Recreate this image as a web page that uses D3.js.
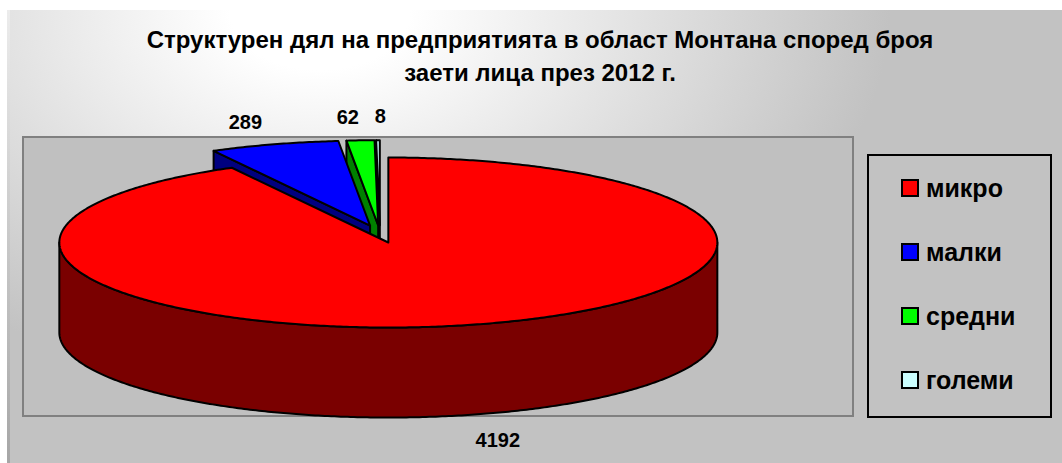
<!DOCTYPE html>
<html>
<head>
<meta charset="utf-8">
<script src="https://cdn.jsdelivr.net/npm/d3@7"></script>
<style>
  body { margin: 0; background: #fff; }
  svg { display: block; font-family: "Liberation Sans", Arial, sans-serif; }
</style>
</head>
<body>
<svg id="chart" width="1062" height="463"></svg>
<script>
// data
const categories = ['микро', 'малки', 'средни', 'големи'];
const values = [4192, 289, 62, 8];
const titleLines = ['Структурен дял на предприятията в област Монтана според броя', 'заети лица през 2012 г.'];

// look
const topColors = ['#ff0000', '#0000ff', '#00ff00', '#ccffff'];
const sideColors = ['#7a0000', '#000080', '#008000', '#669999'];
const labelDx = [3, 2, -7, 3];   // small nudges like excel does
const labelDy = [-1, 4, 4, 3];

const width = 1062, height = 463;
const cx = 380, cy = 234;     // pie centre before explosion
const rx = 329, ry = 85;      // top ellipse radii
const depth = 90;             // pie thickness
const explode = 34;           // slice explosion
const labelFactor = 1.32;

const svg = d3.select('#chart');
const defs = svg.append('defs');

const grad = defs.append('radialGradient')
  .attr('id', 'bg')
  .attr('gradientUnits', 'userSpaceOnUse')
  .attr('cx', 0).attr('cy', 0).attr('r', 1)
  .attr('gradientTransform', 'translate(320,10) scale(600,400)');
grad.append('stop').attr('offset', 0).attr('stop-color', '#ffffff');
grad.append('stop').attr('offset', 0.15).attr('stop-color', '#ffffff');
grad.append('stop').attr('offset', 0.95).attr('stop-color', '#c2c2c2');
grad.append('stop').attr('offset', 1).attr('stop-color', '#c2c2c2');

const edge = defs.append('linearGradient')
  .attr('id', 'edge').attr('x1', 0).attr('y1', 0).attr('x2', 0).attr('y2', 1);
edge.append('stop').attr('offset', 0).attr('stop-color', '#ececec');
edge.append('stop').attr('offset', 1).attr('stop-color', '#a6a6a6');

// chart background
svg.append('rect')
  .attr('x', 7).attr('y', 10).attr('width', width - 7).attr('height', height - 10)
  .attr('fill', 'url(#bg)');
svg.append('rect')
  .attr('x', 7).attr('y', 10).attr('width', 3).attr('height', height - 10)
  .attr('fill', 'url(#edge)');

// title
svg.append('text')
  .attr('x', 540).attr('y', 48)
  .attr('text-anchor', 'middle')
  .attr('font-size', 24).attr('font-weight', 'bold')
  .selectAll('tspan')
  .data(titleLines)
  .join('tspan')
  .attr('x', 540)
  .attr('dy', (d, i) => i ? 32.5 : 0)
  .text(d => d);

// plot area
svg.append('rect')
  .attr('x', 23).attr('y', 137).attr('width', 830).attr('height', 279)
  .attr('fill', '#c0c0c0').attr('stroke', '#808080').attr('stroke-width', 2);

// pie
const pie = d3.pie().sort(null).startAngle(0).endAngle(2 * Math.PI);
const arcs = pie(values).map((d, i) => {
  const mid = (d.startAngle + d.endAngle) / 2;
  return {
    ...d, i, mid,
    ox: cx + explode * Math.sin(mid),
    oy: cy - explode * Math.cos(mid) * ry / rx
  };
});

const line = d3.line();
const rim = (a, x0, y0, dz = 0) => [x0 + rx * Math.sin(a), y0 - ry * Math.cos(a) + dz];
const sample = (a0, a1, x0, y0, dz) => {
  const n = Math.max(2, Math.ceil((a1 - a0) / 0.01));
  return d3.range(n + 1).map(k => rim(a0 + (a1 - a0) * k / n, x0, y0, dz));
};

const pieG = svg.append('g')
  .attr('stroke', '#000').attr('stroke-width', 2).attr('stroke-linejoin', 'round');

// draw back slices first
const order = arcs.slice().sort((a, b) => Math.cos(b.mid) - Math.cos(a.mid));

order.forEach(s => {
  const g = pieG.append('g');
  const a0 = s.startAngle, a1 = s.endAngle;
  // radial faces facing the viewer
  const face = a => line([[s.ox, s.oy], rim(a, s.ox, s.oy), rim(a, s.ox, s.oy, depth), [s.ox, s.oy + depth]]) + 'Z';
  if (Math.sin(a0) < -1e-6) g.append('path').attr('d', face(a0)).attr('fill', sideColors[s.i]);
  if (Math.sin(a1) > 1e-6) g.append('path').attr('d', face(a1)).attr('fill', sideColors[s.i]);
  // outer wall (front half)
  const w0 = Math.max(a0, Math.PI / 2), w1 = Math.min(a1, 3 * Math.PI / 2);
  if (w1 > w0) {
    const pts = sample(w0, w1, s.ox, s.oy, 0).concat(sample(w0, w1, s.ox, s.oy, depth).reverse());
    g.append('path').attr('d', line(pts) + 'Z').attr('fill', sideColors[s.i]);
  }
  // top face
  const topPts = [[s.ox, s.oy]].concat(sample(a0, a1, s.ox, s.oy, 0));
  g.append('path').attr('d', line(topPts) + 'Z').attr('fill', topColors[s.i]);
});

// data labels
svg.append('g')
  .attr('font-size', 20).attr('font-weight', 'bold').attr('text-anchor', 'middle')
  .selectAll('text')
  .data(arcs)
  .join('text')
  .attr('x', d => d.ox + rx * labelFactor * Math.sin(d.mid) + labelDx[d.i])
  .attr('y', d => d.oy - ry * labelFactor * Math.cos(d.mid) + (Math.cos(d.mid) < 0 ? depth : 0) + labelDy[d.i])
  .attr('dy', '0.35em')
  .text(d => d.value);

// legend
const legend = svg.append('g');
legend.append('rect')
  .attr('x', 868).attr('y', 155).attr('width', 183).attr('height', 262)
  .attr('fill', 'none').attr('stroke', '#000').attr('stroke-width', 2);

const ly = d3.scalePoint().domain(categories).range([188, 380]);
const item = legend.selectAll('g.item')
  .data(categories)
  .join('g')
  .attr('class', 'item')
  .attr('transform', d => `translate(902,${ly(d)})`);
item.append('rect')
  .attr('x', 0).attr('y', -8).attr('width', 16).attr('height', 16)
  .attr('fill', (d, i) => topColors[i]).attr('stroke', '#000').attr('stroke-width', 2);
item.append('text')
  .attr('x', 24).attr('dy', '0.35em')
  .attr('font-size', 25).attr('font-weight', 'bold')
  .text(d => d);
</script>
</body>
</html>
